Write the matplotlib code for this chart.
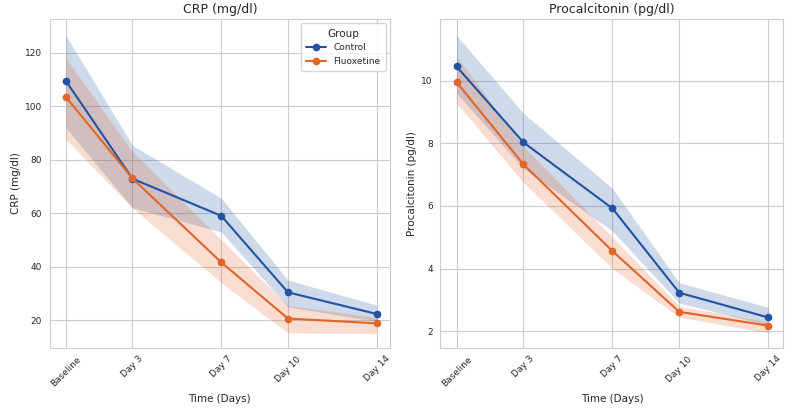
import matplotlib
matplotlib.use("Agg")
import matplotlib.pyplot as plt
import seaborn as sns
import numpy as np

sns.set_style("whitegrid")
plt.rcParams['font.family'] = ['DejaVu Sans']

days = [0, 3, 7, 10, 14]
day_labels = ["Baseline", "Day 3", "Day 7", "Day 10", "Day 14"]
groups = ["Control", "Fluoxetine"]
colors = ["#2352a3", "#e0652a"]

# CRP (mg/dl)
crp_mean = {"Control": [109.5, 72.9, 59.0, 30.4, 22.3],
            "Fluoxetine": [103.5, 73.0, 41.6, 20.6, 18.8]}
crp_lo = {"Control": [92.0, 62.0, 53.0, 25.0, 19.5],
          "Fluoxetine": [87.6, 62.0, 34.0, 15.2, 15.0]}
crp_hi = {"Control": [126.5, 85.4, 65.6, 35.0, 25.6],
          "Fluoxetine": [118.0, 83.0, 50.0, 25.5, 21.0]}

# Procalcitonin (pg/dl)
pct_mean = {"Control": [10.45, 8.03, 5.92, 3.23, 2.44],
            "Fluoxetine": [9.95, 7.33, 4.56, 2.62, 2.18]}
pct_lo = {"Control": [9.6, 7.2, 5.2, 2.9, 2.2],
          "Fluoxetine": [9.28, 6.75, 4.0, 2.45, 1.95]}
pct_hi = {"Control": [11.44, 8.96, 6.56, 3.55, 2.76],
          "Fluoxetine": [10.77, 7.9, 5.0, 2.8, 2.3]}

fig = plt.figure(figsize=(7.88, 4.19), dpi=100)
ax1 = fig.add_axes([0.063, 0.169, 0.432, 0.786])
ax2 = fig.add_axes([0.559, 0.169, 0.435, 0.786])

panels = [
    (ax1, crp_mean, crp_lo, crp_hi, "CRP (mg/dl)", (9.5, 132.7), [20, 40, 60, 80, 100, 120], (-0.73, 14.6)),
    (ax2, pct_mean, pct_lo, pct_hi, "Procalcitonin (pg/dl)", (1.46, 11.97), [2, 4, 6, 8, 10], (-0.72, 14.67)),
]

for ax, mean, lo, hi, name, ylim, yt, xlim in panels:
    for g, c in zip(groups, colors):
        ax.fill_between(days, lo[g], hi[g], color=c, alpha=0.22, linewidth=0)
        ax.plot(days, mean[g], color=c, marker="o", markersize=4.5, linewidth=1.5, label=g)
    ax.set_title(name, fontsize=9, pad=4)
    ax.set_ylabel(name, fontsize=7.5, labelpad=3)
    ax.set_xlabel("Time (Days)", fontsize=7.5, labelpad=4)
    ax.set_xticks(days)
    ax.set_xticklabels(day_labels, rotation=45, fontsize=6.5)
    ax.set_yticks(yt)
    ax.tick_params(axis="y", labelsize=6.5, pad=2)
    ax.tick_params(axis="x", pad=1)
    ax.set_xlim(*xlim)
    ax.set_ylim(*ylim)
    for s in ax.spines.values():
        s.set_color("#cccccc")

leg = ax1.legend(title="Group", loc="upper right", fontsize=6.5, title_fontsize=7.5,
                 frameon=True, borderpad=0.6, handlelength=2.2)

fig.savefig("out.png", dpi=100)
